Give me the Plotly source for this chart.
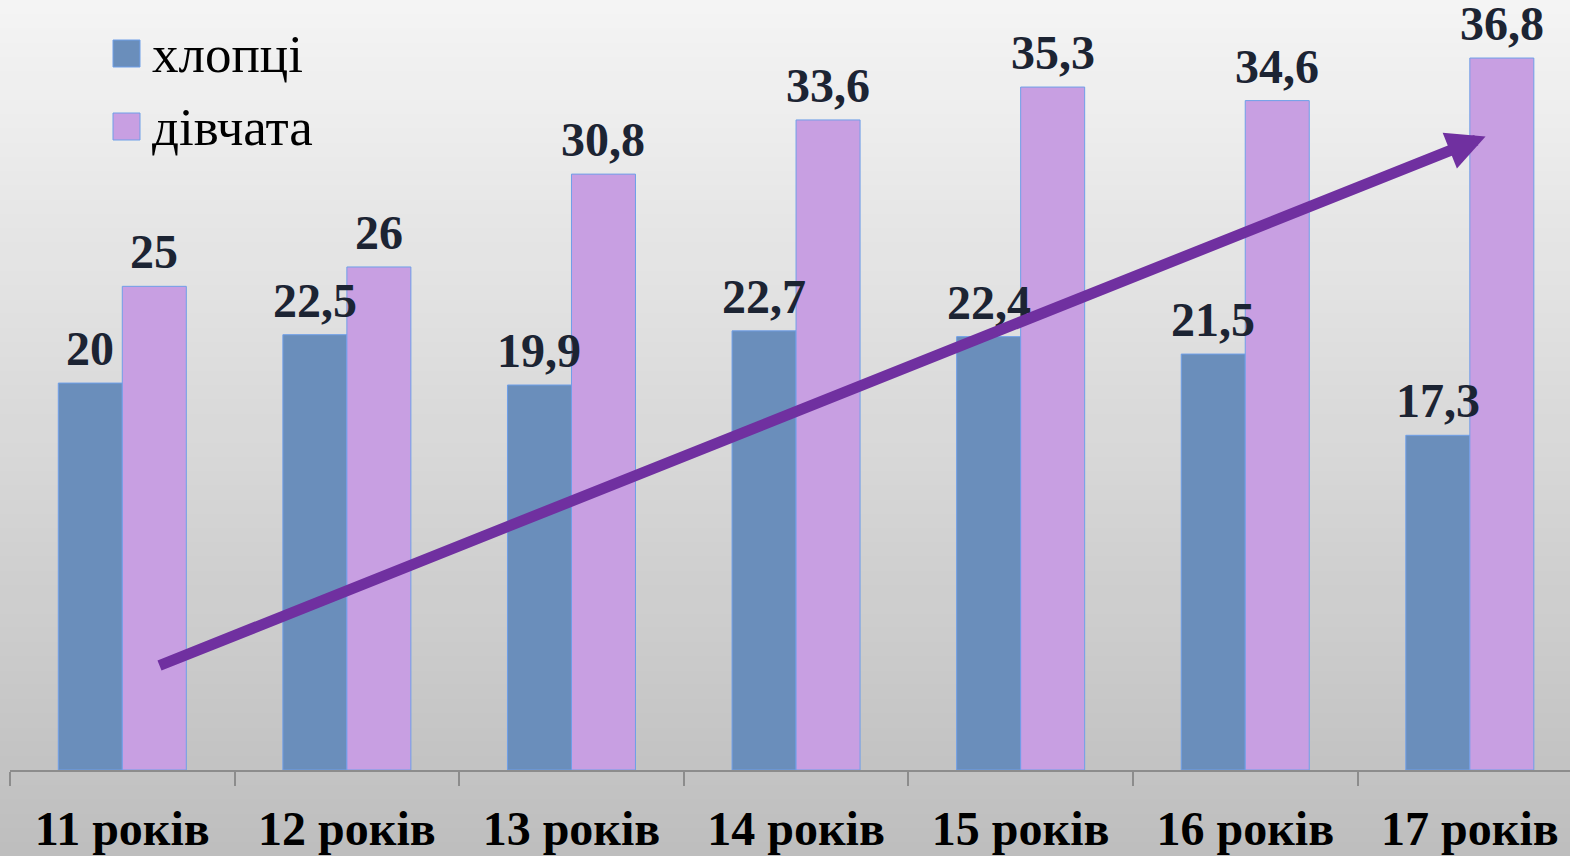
import plotly.graph_objects as go

categories = ["11 років", "12 років", "13 років", "14 років", "15 років", "16 років", "17 років"]
boys = [20, 22.5, 19.9, 22.7, 22.4, 21.5, 17.3]
girls = [25, 26, 30.8, 33.6, 35.3, 34.6, 36.8]
series_names = ["хлопці", "дівчата"]

BLUE = "#6A8EBB"
PURPLE = "#C89FE2"
EDGE = "#6F9FE8"
ARROW = "#7030A0"
LABEL = "#1C2433"
SERIF = "Liberation Serif"

BARGAP = 0.43
half = (1 - BARGAP) / 4  # offset of each bar centre from category centre

def fmt(v):
    return f"{v:g}".replace(".", ",")

fig = go.Figure()
annotations = []
for k, (name, vals, col) in enumerate([(series_names[0], boys, BLUE), (series_names[1], girls, PURPLE)]):
    fig.add_trace(go.Bar(
        x=categories, y=vals, name=name,
        marker=dict(color=col, line=dict(color=EDGE, width=1)),
        showlegend=False, hoverinfo="x+y+name",
    ))
    off = -half if k == 0 else half
    for i, v in enumerate(vals):
        annotations.append(dict(x=i + off, y=v, xref="x", yref="y", text=fmt(v),
                                showarrow=False, yanchor="bottom", yshift=6,
                                font=dict(family=SERIF, size=48, color=LABEL, weight="bold")))

# background gradient
shapes = []
n = 60
y0p, y1p = -86 / 770, 1.0
for i in range(n):
    t = i / (n - 1)
    c = int(round(0xF4 + (0xBE - 0xF4) * t))
    top = y1p - (y1p - y0p) * i / n
    bot = y1p - (y1p - y0p) * (i + 1) / n
    shapes.append(dict(type="rect", xref="paper", yref="paper", x0=-0.02, x1=1.02,
                       y0=bot - 0.002, y1=top, fillcolor=f"rgb({c},{c},{c})",
                       line=dict(width=0), layer="below"))

# manual legend
def px2paper(px, py):
    return (px - 10) / 1560, (770 - py) / 770

for (name, col, ytop) in [(series_names[0], BLUE, 40), (series_names[1], PURPLE, 113)]:
    x0, y0 = px2paper(113, ytop + 27)
    x1, y1 = px2paper(140, ytop)
    shapes.append(dict(type="rect", xref="paper", yref="paper", x0=x0, x1=x1, y0=y0, y1=y1,
                       fillcolor=col, line=dict(color=EDGE, width=1)))
    tx, ty = px2paper(150, ytop + 14)
    annotations.append(dict(xref="paper", yref="paper", x=tx, y=ty, text=name,
                            showarrow=False, xanchor="left", yanchor="middle",
                            font=dict(family=SERIF, size=53, color="#000000")))

# trend arrow
annotations.append(dict(x=6.07, y=32.75, ax=0.159, ay=5.37, xref="x", yref="y",
                        axref="x", ayref="y", showarrow=True, arrowhead=2,
                        arrowsize=0.7, arrowwidth=11, arrowcolor=ARROW, text=""))

fig.update_layout(
    width=1570, height=856,
    margin=dict(l=10, r=0, t=0, b=86),
    barmode="group", bargap=BARGAP, bargroupgap=0,
    paper_bgcolor="#D8D8D8", plot_bgcolor="rgba(0,0,0,0)",
    shapes=shapes, annotations=annotations,
    xaxis=dict(range=[-0.5, 6.446], showline=True, linecolor="#8C8C8C", linewidth=1.5,
               ticks="outside", tickson="boundaries", ticklen=14, tickcolor="#8C8C8C",
               tickwidth=1.5, showgrid=False, ticklabelstandoff=16,
               tickfont=dict(family=SERIF, size=48, color="#000000", weight="bold")),
    yaxis=dict(range=[0, 39.8], visible=False, showgrid=False, zeroline=False),
)

fig.write_html("out.html", config={"displayModeBar": False},
               post_script="document.body.style.margin='0';document.body.style.overflow='hidden';")
